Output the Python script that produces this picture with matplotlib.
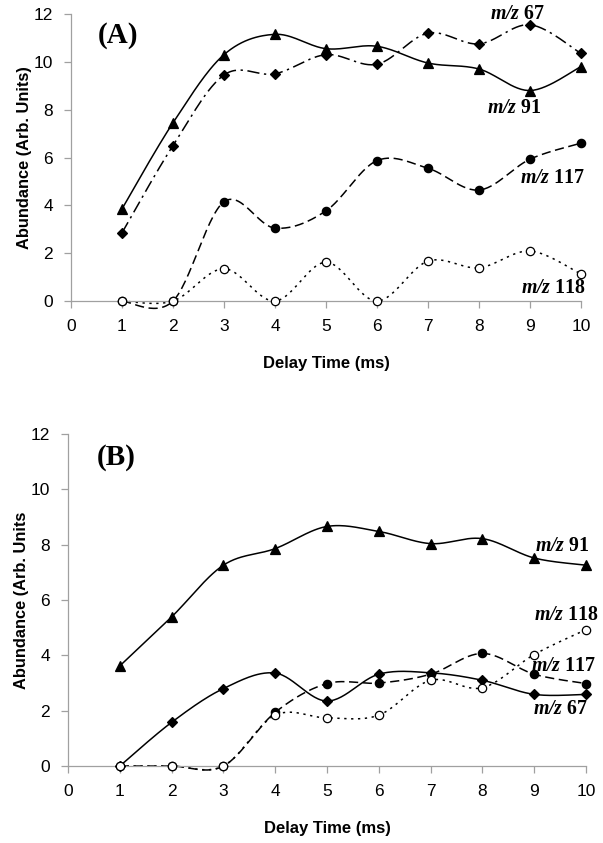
import numpy as np
import matplotlib
matplotlib.use("Agg")
import matplotlib.pyplot as plt

delay = [1, 2, 3, 4, 5, 6, 7, 8, 9, 10]

# panel A
a_mz67 = [2.85, 6.5, 9.45, 9.5, 10.3, 9.9, 11.2, 10.75, 11.55, 10.35]
a_mz91 = [3.85, 7.45, 10.3, 11.15, 10.55, 10.65, 9.95, 9.7, 8.8, 9.8]
a_mz117 = [0.0, 0.0, 4.15, 3.05, 3.77, 5.87, 5.55, 4.64, 5.93, 6.6]
a_mz118 = [0.0, 0.0, 1.35, 0.0, 1.62, 0.0, 1.67, 1.39, 2.09, 1.13]

# panel B
b_mz67 = [0.0, 1.58, 2.8, 3.36, 2.35, 3.32, 3.37, 3.1, 2.59, 2.59]
b_mz91 = [3.62, 5.39, 7.26, 7.86, 8.66, 8.48, 8.04, 8.22, 7.52, 7.26]
b_mz117 = [0.0, 0.0, 0.0, 1.94, 2.98, 3.0, 3.32, 4.07, 3.32, 2.98]
b_mz118 = [0.0, 0.0, 0.0, 1.84, 1.74, 1.84, 3.1, 2.83, 4.03, 4.93]

x_ticks = list(range(0, 11))
y_ticks = list(range(0, 13, 2))


def smooth(x, y, n=30):
    # excel-like smoothed line (catmull-rom bezier)
    x = np.asarray(x, float)
    y = np.asarray(y, float)
    p = np.column_stack([x, y])
    ext = np.vstack([p[0], p, p[-1]])
    t = np.linspace(0, 1, n)[:, None]
    out = []
    for i in range(len(p) - 1):
        p0, p1, p2, p3 = ext[i], ext[i + 1], ext[i + 2], ext[i + 3]
        c1 = p1 + (p2 - p0) / 6
        c2 = p2 - (p3 - p1) / 6
        seg = ((1 - t) ** 3) * p1 + 3 * ((1 - t) ** 2) * t * c1 + 3 * (1 - t) * t ** 2 * c2 + t ** 3 * p2
        out.append(seg if i == 0 else seg[1:])
    out = np.vstack(out)
    return out[:, 0], out[:, 1]


def series(ax, y, ls, marker, mfc, ms):
    sx, sy = smooth(delay, y)
    ax.plot(sx, sy, color="black", lw=1.1, linestyle=ls, clip_on=False)
    ax.plot(delay, y, linestyle="none", marker=marker, mfc=mfc, mec="black",
            mew=0.9, ms=ms, clip_on=False, zorder=3)


def style(ax, ylabel):
    ax.set_xlim(0, 10)
    ax.set_ylim(0, 12)
    ax.set_xticks(x_ticks)
    ax.set_yticks(y_ticks)
    for s in ["top", "right"]:
        ax.spines[s].set_visible(False)
    for s in ["left", "bottom"]:
        ax.spines[s].set_color("#a0a0a0")
        ax.spines[s].set_linewidth(0.9)
    ax.tick_params(direction="out", length=5, color="#a0a0a0", width=0.9,
                   labelsize=12.5, pad=8)
    for lab in ax.get_xticklabels() + ax.get_yticklabels():
        lab.set_fontfamily("Liberation Sans")
    ax.set_xlabel("Delay Time (ms)", fontsize=12, fontweight="bold",
                  family="Liberation Sans", labelpad=16)
    ax.set_ylabel(ylabel, fontsize=11.8, fontweight="bold",
                  family="Liberation Sans", labelpad=1)


def mz(ax, x, y, num):
    ax.text(x, y, r"$\mathbfit{m/z}$ " + num, fontsize=14.3, fontweight="bold",
            family="Liberation Serif", ha="center", va="center")


plt.rcParams["mathtext.fontset"] = "custom"
plt.rcParams["mathtext.bfit"] = "Liberation Serif:bold:italic"

fig = plt.figure(figsize=(6.03, 8.43), dpi=100)

dashdot = (0, (8, 3, 1.5, 3))
dashed = (0, (6, 3))
dotted = (0, (1.5, 3))

axA = fig.add_axes([0.1177, 0.6429, 0.8458, 0.3405])
series(axA, a_mz67, dashdot, "D", "black", 5)
series(axA, a_mz91, "-", "^", "black", 7)
series(axA, a_mz117, dashed, "o", "black", 6)
series(axA, a_mz118, dotted, "o", "white", 6)
style(axA, "Abundance (Arb. Units)")
axA.text(0.52, 11.1, "(A)", fontsize=21, fontweight="bold",
         family="Liberation Serif", va="center")
mz(axA, 8.75, 12.0, "67")
mz(axA, 8.7, 8.07, "91")
mz(axA, 9.45, 5.15, "117")
mz(axA, 9.45, 0.54, "118")

axB = fig.add_axes([0.1128, 0.0913, 0.859, 0.3938])
series(axB, b_mz67, "-", "D", "black", 5)
series(axB, b_mz91, "-", "^", "black", 7)
series(axB, b_mz117, dashed, "o", "black", 6)
series(axB, b_mz118, dotted, "o", "white", 6)
style(axB, "Abundance (Arb. Units")
axB.text(0.55, 11.15, "(B)", fontsize=21, fontweight="bold",
         family="Liberation Serif", va="center")
mz(axB, 9.54, 7.95, "91")
mz(axB, 9.63, 5.45, "118")
mz(axB, 9.56, 3.62, "117")
mz(axB, 9.5, 2.05, "67")

fig.savefig("out.png", dpi=100)
